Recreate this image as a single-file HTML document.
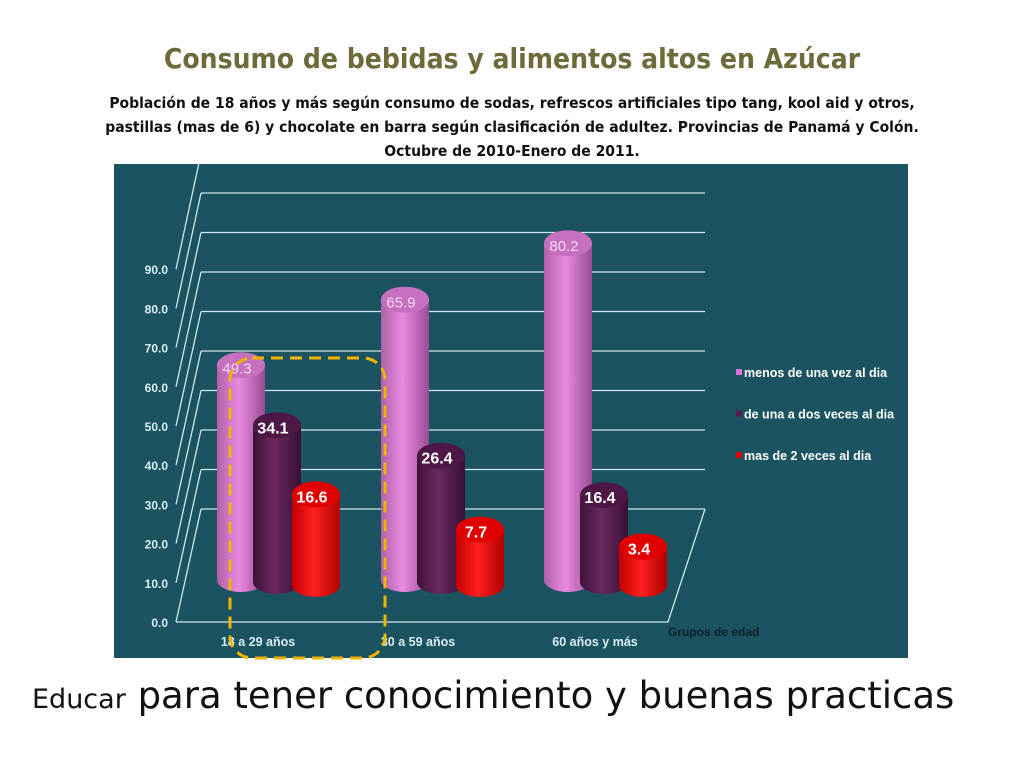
<!DOCTYPE html>
<html><head><meta charset="utf-8"><style>
body{margin:0;width:1024px;height:768px;background:#fff;overflow:hidden;font-family:"Liberation Sans",sans-serif;position:relative}
.t{position:absolute;left:0;width:1024px;text-align:center}
</style></head><body>
<div class="t" style="top:42px;font-size:28px;font-weight:bold;color:#6e6a3a;font-family:'DejaVu Sans Condensed','Liberation Sans',sans-serif">Consumo de bebidas y alimentos altos en Azúcar</div>
<div class="t" style="top:91px;font-size:15.5px;font-weight:bold;line-height:24px;color:#111;font-family:'DejaVu Sans Condensed','Liberation Sans',sans-serif">Población de 18 años y más según consumo de sodas, refrescos artificiales tipo tang, kool aid y otros,<br>pastillas (mas de 6) y chocolate en barra según clasificación de adultez. Provincias de Panamá y Colón.<br>Octubre de 2010-Enero de 2011.</div>
<svg id="c" width="1024" height="768" style="position:absolute;left:0;top:0">
<defs>
<clipPath id="pc"><rect x="114" y="164" width="794" height="494"/></clipPath>
<linearGradient id="g0" x1="0" x2="1"><stop offset="0" stop-color="#b060a8"/><stop offset=".45" stop-color="#e88ae0"/><stop offset="1" stop-color="#9a4c94"/></linearGradient>
<linearGradient id="g1" x1="0" x2="1"><stop offset="0" stop-color="#3e1236"/><stop offset=".45" stop-color="#6a2a60"/><stop offset="1" stop-color="#3a1032"/></linearGradient>
<linearGradient id="g2" x1="0" x2="1"><stop offset="0" stop-color="#c00000"/><stop offset=".45" stop-color="#ff2020"/><stop offset="1" stop-color="#b00000"/></linearGradient>
</defs>
<rect x="114" y="164" width="794" height="494" fill="#1b5360"/>
<g id="grid" clip-path="url(#pc)"></g><g id="bars"></g><g id="leg"></g>
<rect x="230" y="358" width="155" height="300" rx="22" fill="none" stroke="#f0b400" stroke-width="3" stroke-dasharray="12 7"/>
</svg>
<div style="position:absolute;left:32px;top:674px;font-size:37px;color:#111;font-family:'DejaVu Sans','Liberation Sans',sans-serif;white-space:nowrap"><span style="font-size:27px">Educar</span> para tener conocimiento y buenas practicas</div>
<script>
const categories=["18 a 29 años","30 a 59 años","60 años y más"];
const seriesNames=["menos de una vez al dia","de una a dos veces al dia","mas de 2 veces al dia"];
const s0=[49.3,65.9,80.2];
const s1=[34.1,26.4,16.4];
const s2=[16.6,7.7,3.4];
const ticks=[0,10,20,30,40,50,60,70,80,90];
const NS="http://www.w3.org/2000/svg";
function mk(p,t,a){const e=document.createElementNS(NS,t);for(const k in a)e.setAttribute(k,a[k]);p.appendChild(e);return e;}
const grid=document.getElementById('grid'),bars=document.getElementById('bars'),leg=document.getElementById('leg');
const yF=v=>622-v*3.92, yB=v=>509-v*3.95;
ticks.forEach(t=>{
 const l=mk(grid,'line',{x1:176,y1:yF(t),x2:201,y2:yB(t),stroke:'#cfe6ea','stroke-width':1.3});
 
 const b=mk(grid,'line',{x1:201,y1:yB(t),x2:705,y2:yB(t),stroke:'#cfe6ea','stroke-width':1.3});
 
 const tx=mk(grid,'text',{x:168,y:yF(t)+5,'text-anchor':'end','font-size':12,'font-weight':'bold',fill:'#d8eef2'});
 
 tx.textContent=t.toFixed(1);
});
const fl=mk(grid,'path',{d:'M176 622 L668 622 L705 509',fill:'none',stroke:'#cfe6ea','stroke-width':1.3});

const catX=[258,418,595];
categories.forEach((c,i)=>{
 const tx=mk(grid,'text',{x:catX[i],y:646,'text-anchor':'middle','font-size':12.5,'font-weight':'bold',fill:'#d8eef2'});
 
 tx.textContent=c;
});
const at=mk(grid,'text',{x:668,y:636,'font-size':12,'font-weight':'bold',fill:'#0d2228'});
at.textContent='Grupos de edad';
const series=[s0,s1,s2];
const offX=[0,36,75],baseY=[580,582,585],vals=['#f4d8f0','#fff','#fff'];
const groupX=[241,405,568];
const topY=v=>560-v*3.95;
series.forEach((s,si)=>{
 s.forEach((v,i)=>{
  const cx=groupX[i]+offX[si],w=24,ty=topY(v),by=baseY[si];
  const g=mk(bars,'g',{});
  
  mk(g,'path',{d:`M${cx-w} ${ty} L${cx-w} ${by} A${w} 12 0 0 0 ${cx+w} ${by} L${cx+w} ${ty} Z`,fill:'url(#g'+si+')'});
  mk(g,'ellipse',{cx:cx,cy:ty,rx:w,ry:13,fill:['#c870c0','#4e1846','#e00000'][si]});
  const tx=mk(g,'text',{x:cx-4,y:ty+8,'text-anchor':'middle','font-size':si==0?15:16,'font-weight':si==0?'normal':'bold',fill:vals[si]});
  tx.textContent=v.toFixed(1);
 });
});
const lc=['#e070d8','#5a1a52','#e00000'];
seriesNames.forEach((n,i)=>{
 const g=mk(leg,'g',{});
 
 mk(g,'rect',{x:736,y:369+i*41.5,width:6,height:6,fill:lc[i]});
 const tx=mk(g,'text',{x:744,y:377+i*41.5,'font-size':12.5,'font-weight':'bold',fill:'#fff'});
 tx.textContent=n;
});
</script>
</body></html>
